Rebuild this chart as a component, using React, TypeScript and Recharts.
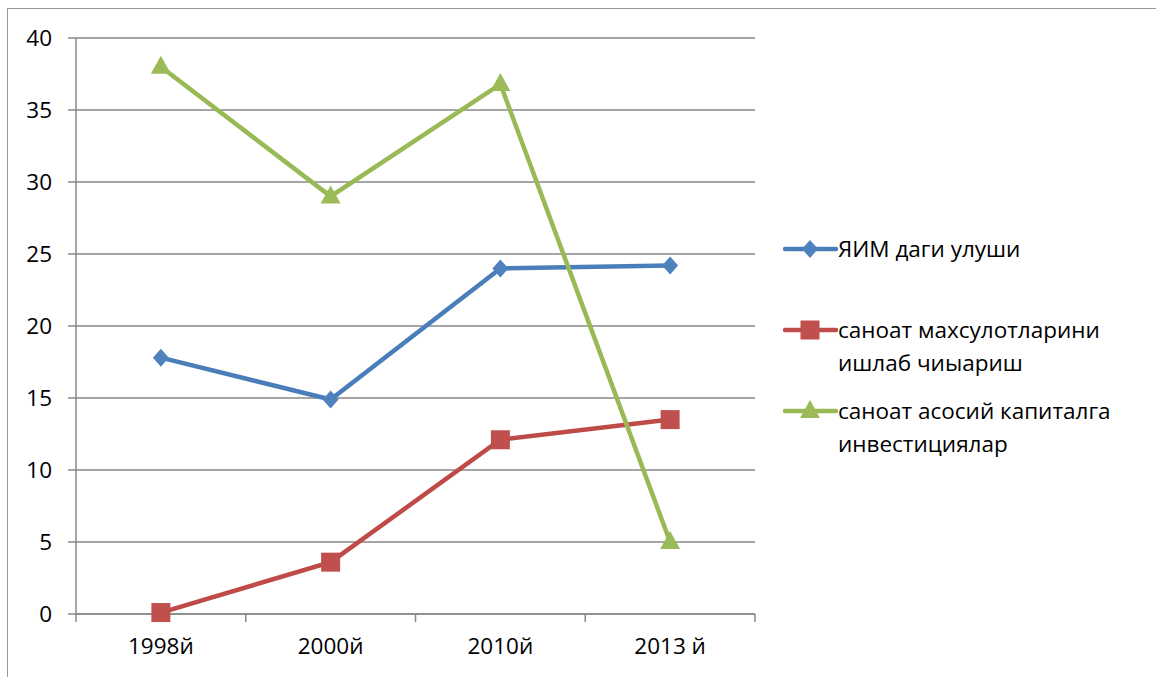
import { CartesianGrid, Line, LineChart, XAxis, YAxis } from "recharts";

const years = ["1998й", "2000й", "2010й", "2013 й"];
const gdpShare = [17.8, 14.9, 24.0, 24.2];
const industrialOutput = [0.1, 3.6, 12.1, 13.5];
const capitalInvestment = [38, 29, 36.8, 5];
const yTicks = [0, 5, 10, 15, 20, 25, 30, 35, 40];
const seriesNames = [
	"ЯИМ даги улуши",
	"саноат махсулотларини\nишлаб чиыариш",
	"саноат асосий капиталга\nинвестициялар",
];

const data = years.map((year, i) => ({
	year,
	gdp: gdpShare[i],
	output: industrialOutput[i],
	invest: capitalInvestment[i],
}));

const FONT = "'Open Sans', 'DejaVu Sans', sans-serif";
const FONT_SIZE = 22.5;
const GRID = "#888888";

const SERIES = [
	{ key: "gdp", name: seriesNames[0], line: "#4A7EBB", fill: "#4F81BD", shape: "diamond" },
	{ key: "output", name: seriesNames[1], line: "#BE4B48", fill: "#C0504D", shape: "square" },
	{ key: "invest", name: seriesNames[2], line: "#98B954", fill: "#9BBB59", shape: "triangle" },
];

function Marker({ cx, cy, fill, shape }: { cx: number; cy: number; fill: string; shape: string }) {
	if (shape === "diamond") {
		return <path d={`M${cx},${cy - 9}L${cx + 8},${cy}L${cx},${cy + 9}L${cx - 8},${cy}Z`} fill={fill} />;
	}
	if (shape === "square") {
		return <rect x={cx - 9.5} y={cy - 9.5} width={19} height={19} fill={fill} />;
	}
	return <path d={`M${cx},${cy - 11}L${cx + 10},${cy + 7}L${cx - 10},${cy + 7}Z`} fill={fill} />;
}

// category labels sit in the middle of each band, tick marks on the band edges
function XTick(props: any) {
	const { x, y, payload, index, visibleTicksCount } = props;
	const half = payload.offset ?? 0;
	return (
		<g>
			<line x1={x - half} y1={y} x2={x - half} y2={y + 8} stroke={GRID} strokeWidth={1.5} />
			{index === visibleTicksCount - 1 && (
				<line x1={x + half} y1={y} x2={x + half} y2={y + 8} stroke={GRID} strokeWidth={1.5} />
			)}
			<text x={x} y={y + 31} textAnchor="middle" dominantBaseline="central" fill="#000" fontSize={FONT_SIZE} fontFamily={FONT}>
				{payload.value}
			</text>
		</g>
	);
}

function LegendIcon({ shape, line, fill }: { shape: string; line: string; fill: string }) {
	return (
		<svg width={55} height={24} style={{ flex: "none" }}>
			<line x1={2} y1={12} x2={53} y2={12} stroke={line} strokeWidth={4.5} strokeLinecap="round" />
			<Marker cx={27} cy={12} fill={fill} shape={shape} />
		</svg>
	);
}

export default function App() {
	return (
		<div
			style={{
				position: "fixed",
				left: 0,
				top: 0,
				width: 1156,
				height: 677,
				overflow: "hidden",
				background: "#fff",
				fontFamily: FONT,
			}}
		>
			<div
				style={{
					position: "absolute",
					left: 7,
					top: 8,
					width: 1200,
					height: 700,
					border: "1.5px solid #999",
				}}
			/>
			<div style={{ position: "absolute", left: 0, top: 0 }}>
				<LineChart width={1156} height={677} data={data} margin={{ top: 38, right: 401, bottom: 33, left: 0 }}>
					<CartesianGrid vertical={false} stroke={GRID} strokeWidth={1.5} />
					<XAxis
						dataKey="year"
						scale="band"
						stroke={GRID}
						strokeWidth={1.5}
						tickLine={false}
						tickSize={0}
						tickMargin={0}
						height={30}
						tick={<XTick />}
						interval={0}
					/>
					<YAxis
						domain={[0, 40]}
						ticks={yTicks}
						width={76}
						stroke={GRID}
						strokeWidth={1.5}
						tickSize={8}
						tickMargin={16}
						tick={{ fill: "#000", fontSize: FONT_SIZE, fontFamily: FONT }}
						interval={0}
					/>
					{SERIES.map((s) => (
						<Line
							key={s.key}
							dataKey={s.key}
							name={s.name}
							stroke={s.line}
							strokeWidth={4.5}
							isAnimationActive={false}
							dot={(p: any) => <Marker key={`${s.key}-${p.index}`} cx={p.cx} cy={p.cy} fill={s.fill} shape={s.shape} />}
							activeDot={false}
						/>
					))}
				</LineChart>
			</div>
			<div style={{ position: "absolute", left: 783, top: 232, width: 372 }}>
				{SERIES.map((s) => (
					<div key={s.key} style={{ display: "flex", alignItems: "flex-start", minHeight: 81 }}>
						<div style={{ height: 34, display: "flex", alignItems: "center" }}>
							<LegendIcon shape={s.shape} line={s.line} fill={s.fill} />
						</div>
						<div style={{ whiteSpace: "pre-line", fontSize: FONT_SIZE, lineHeight: "33px", color: "#000" }}>{s.name}</div>
					</div>
				))}
			</div>
		</div>
	);
}
